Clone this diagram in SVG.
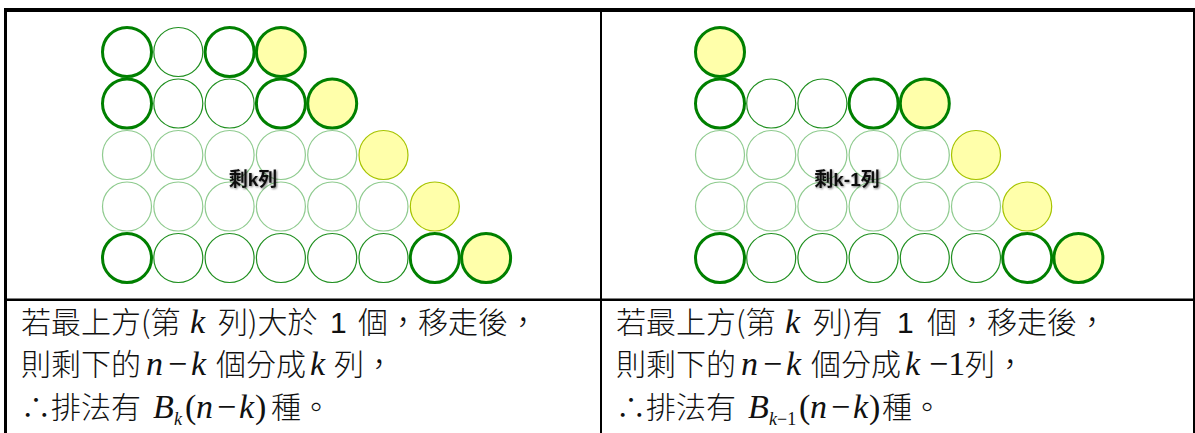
<svg xmlns="http://www.w3.org/2000/svg" width="1195" height="433" viewBox="0 0 1195 433">
<defs>
<filter id="glow" x="-20%" y="-40%" width="140%" height="180%">
<feGaussianBlur in="SourceAlpha" stdDeviation="1.2" result="b"/>
<feOffset in="b" dx="0.5" dy="0.5" result="o"/>
<feComponentTransfer in="o" result="s"><feFuncA type="linear" slope="0.55"/></feComponentTransfer>
<feMerge><feMergeNode in="s"/><feMergeNode in="SourceGraphic"/></feMerge>
</filter>
</defs>
<style>
.thick{fill:#fff;stroke:#008000;stroke-width:3}
.thin{fill:#fff;stroke:#1f8f1f;stroke-width:1.2}
.faint{fill:#fff;stroke:#8fcb8f;stroke-width:1.2}
.ythick{fill:#ffffaa;stroke:#008000;stroke-width:3}
.ythin{fill:#ffffaa;stroke:#a6c400;stroke-width:1.2}
.lbl{font-family:"Liberation Sans","Noto Sans CJK TC",sans-serif;font-weight:bold;font-size:19px;fill:#111}
.tx{font-family:"Noto Sans CJK TC","Noto Sans CJK SC",sans-serif;font-size:30px;font-weight:300;fill:#111}
.m{font-family:"Liberation Serif",serif;font-style:italic;font-size:34px}
.u{font-family:"Liberation Serif",serif;font-size:34px}
.s{font-family:"Liberation Serif",serif;font-style:italic;font-size:18px}
.su{font-family:"Liberation Serif",serif;font-size:18px}
.n1{font-family:"Liberation Sans",sans-serif}
.rule{stroke:#000;fill:none}
</style>
<g id="table">
<line class="rule" x1="4" y1="10" x2="1195" y2="10" stroke-width="4"/>
<line class="rule" x1="5.5" y1="8" x2="5.5" y2="433" stroke-width="3"/>
<line class="rule" x1="1194" y1="8" x2="1194" y2="433" stroke-width="2"/>
<line class="rule" x1="601" y1="8" x2="601" y2="433" stroke-width="2"/>
<line class="rule" x1="4" y1="299.7" x2="1195" y2="299.7" stroke-width="2.5"/>
</g>
<g id="left-panel">
<circle class="faint" cx="127" cy="155" r="24.5"/><circle class="faint" cx="178.3" cy="155" r="24.5"/><circle class="faint" cx="229.6" cy="155" r="24.5"/><circle class="faint" cx="280.9" cy="155" r="24.5"/><circle class="faint" cx="332.2" cy="155" r="24.5"/>
<circle class="faint" cx="127" cy="206.5" r="24.5"/><circle class="faint" cx="178.3" cy="206.5" r="24.5"/><circle class="faint" cx="229.6" cy="206.5" r="24.5"/><circle class="faint" cx="280.9" cy="206.5" r="24.5"/><circle class="faint" cx="332.2" cy="206.5" r="24.5"/><circle class="faint" cx="383.5" cy="206.5" r="24.5"/>
<circle class="ythin" cx="383.5" cy="155" r="24.5"/>
<circle class="ythin" cx="434.8" cy="206.5" r="24.5"/>
<circle class="thin" cx="178.3" cy="52" r="24.5"/>
<circle class="thin" cx="178.3" cy="103.5" r="24.5"/><circle class="thin" cx="229.6" cy="103.5" r="24.5"/>
<circle class="thin" cx="178.3" cy="258" r="24.5"/><circle class="thin" cx="229.6" cy="258" r="24.5"/><circle class="thin" cx="280.9" cy="258" r="24.5"/><circle class="thin" cx="332.2" cy="258" r="24.5"/><circle class="thin" cx="383.5" cy="258" r="24.5"/>
<circle class="thick" cx="127" cy="52" r="24.5"/><circle class="thick" cx="229.6" cy="52" r="24.5"/><circle class="ythick" cx="280.9" cy="52" r="24.5"/>
<circle class="thick" cx="127" cy="103.5" r="24.5"/><circle class="thick" cx="280.9" cy="103.5" r="24.5"/><circle class="ythick" cx="332.2" cy="103.5" r="24.5"/>
<circle class="thick" cx="127" cy="258" r="24.5"/><circle class="thick" cx="434.8" cy="258" r="24.5"/><circle class="ythick" cx="486.1" cy="258" r="24.5"/>
<text class="lbl" x="253" y="186" text-anchor="middle" filter="url(#glow)">剩k列</text>
</g>
<g id="right-panel">
<circle class="faint" cx="720" cy="155" r="24.5"/><circle class="faint" cx="771.2" cy="155" r="24.5"/><circle class="faint" cx="822.4" cy="155" r="24.5"/><circle class="faint" cx="873.6" cy="155" r="24.5"/><circle class="faint" cx="924.8" cy="155" r="24.5"/>
<circle class="faint" cx="720" cy="206.5" r="24.5"/><circle class="faint" cx="771.2" cy="206.5" r="24.5"/><circle class="faint" cx="822.4" cy="206.5" r="24.5"/><circle class="faint" cx="873.6" cy="206.5" r="24.5"/><circle class="faint" cx="924.8" cy="206.5" r="24.5"/><circle class="faint" cx="976" cy="206.5" r="24.5"/>
<circle class="ythin" cx="976" cy="155" r="24.5"/>
<circle class="ythin" cx="1027.2" cy="206.5" r="24.5"/>
<circle class="thin" cx="771.2" cy="103.5" r="24.5"/><circle class="thin" cx="822.4" cy="103.5" r="24.5"/>
<circle class="thin" cx="771.2" cy="258" r="24.5"/><circle class="thin" cx="822.4" cy="258" r="24.5"/><circle class="thin" cx="873.6" cy="258" r="24.5"/><circle class="thin" cx="924.8" cy="258" r="24.5"/><circle class="thin" cx="976" cy="258" r="24.5"/>
<circle class="ythick" cx="720" cy="52" r="24.5"/>
<circle class="thick" cx="720" cy="103.5" r="24.5"/><circle class="thick" cx="873.6" cy="103.5" r="24.5"/><circle class="ythick" cx="924.8" cy="103.5" r="24.5"/>
<circle class="thick" cx="720" cy="258" r="24.5"/><circle class="thick" cx="1027.2" cy="258" r="24.5"/><circle class="ythick" cx="1078.4" cy="258" r="24.5"/>
<text class="lbl" x="847" y="186" text-anchor="middle" filter="url(#glow)">剩k-1列</text>
</g>
<g id="left-text">
<text class="tx" x="21" y="333">若最上方(第<tspan class="m" x="190">k</tspan><tspan x="218">列)大於</tspan><tspan class="n1" x="330">1</tspan><tspan x="358">個，移走後，</tspan></text>
<text class="tx" x="21" y="375">則剩下的<tspan class="m" x="146">n</tspan><tspan class="u" x="168">−</tspan><tspan class="m" x="191">k</tspan><tspan x="216">個分成</tspan><tspan class="m" x="310">k</tspan><tspan x="334">列，</tspan></text>
<text class="tx" x="21" y="418">∴排法有<tspan class="m" x="153">B</tspan><tspan class="s" x="174" dy="7">k</tspan><tspan class="u" x="185" dy="-7">(</tspan><tspan class="m" x="196">n</tspan><tspan class="u" x="217">−</tspan><tspan class="m" x="239">k</tspan><tspan class="u" x="255">)</tspan><tspan x="271">種。</tspan></text>
</g>
<g id="right-text">
<text class="tx" x="616" y="333">若最上方(第<tspan class="m" x="785">k</tspan><tspan x="813">列)有</tspan><tspan class="n1" x="897">1</tspan><tspan x="927">個，移走後，</tspan></text>
<text class="tx" x="616" y="375">則剩下的<tspan class="m" x="741">n</tspan><tspan class="u" x="763">−</tspan><tspan class="m" x="786">k</tspan><tspan x="811">個分成</tspan><tspan class="m" x="905">k</tspan><tspan class="u" x="929">−1</tspan><tspan x="965">列，</tspan></text>
<text class="tx" x="616" y="418">∴排法有<tspan class="m" x="748">B</tspan><tspan class="s" x="769" dy="7">k</tspan><tspan class="su">−1</tspan><tspan class="u" x="799" dy="-7">(</tspan><tspan class="m" x="810">n</tspan><tspan class="u" x="831">−</tspan><tspan class="m" x="853">k</tspan><tspan class="u" x="869">)</tspan><tspan x="882">種。</tspan></text>
</g>
</svg>
